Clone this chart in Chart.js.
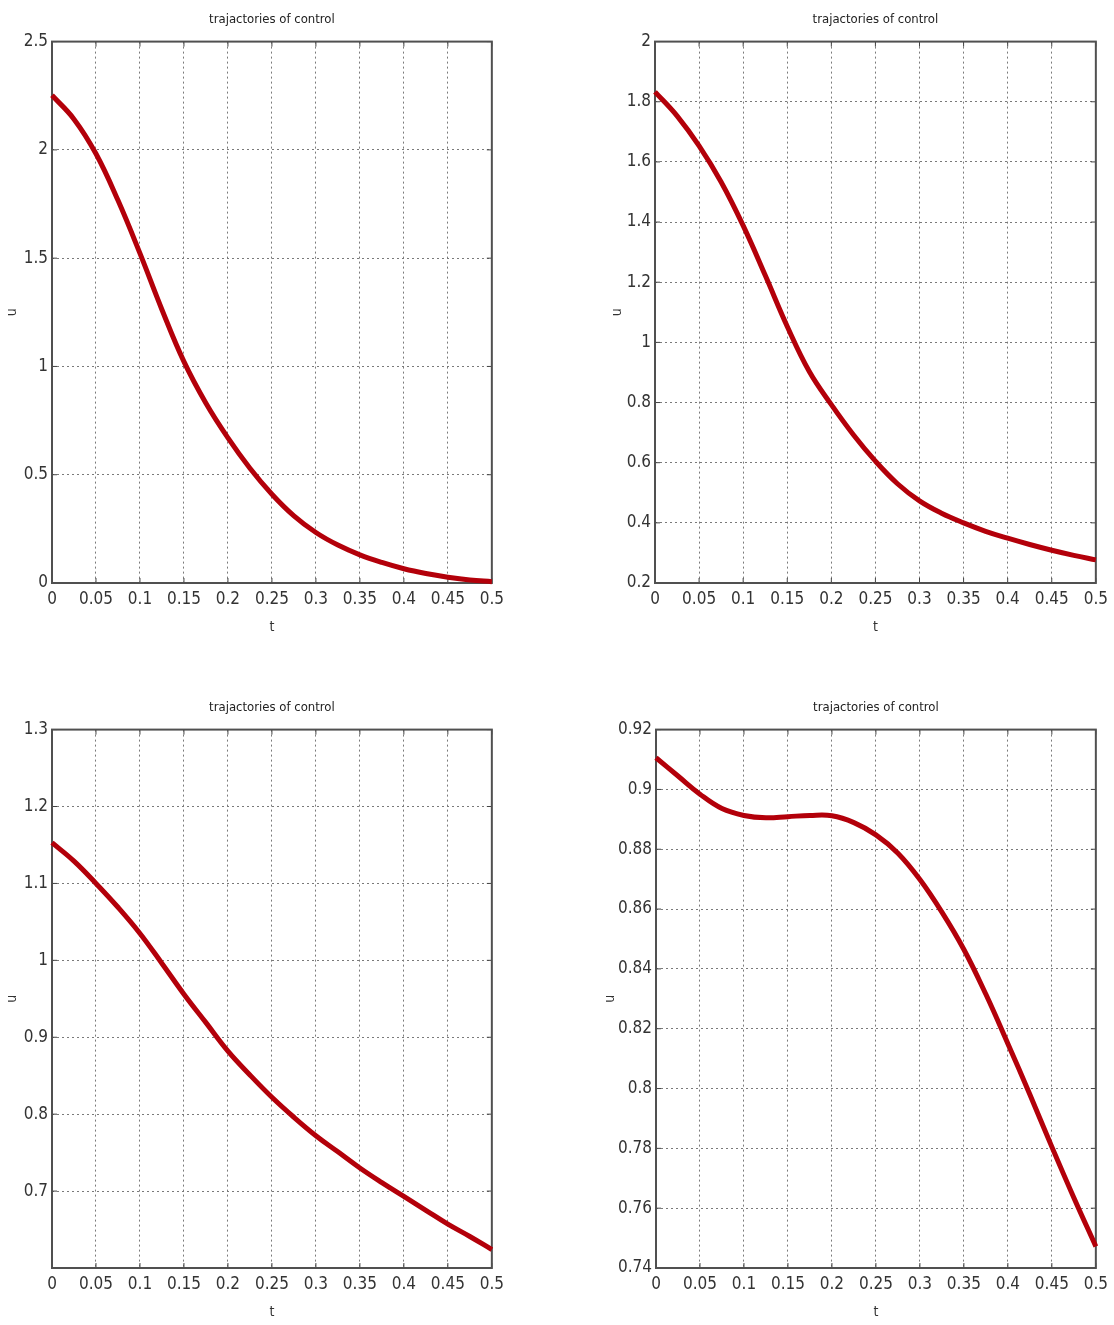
<!DOCTYPE html>
<html>
<head>
<meta charset="utf-8">
<script src="https://cdn.jsdelivr.net/npm/chart.js@4.4.1/dist/chart.umd.min.js"></script>
<style>
  body { margin: 0; background: #fff; width: 1114px; height: 1325px; position: relative; overflow: hidden; }
  .panel { position: absolute; }
</style>
</head>
<body>
<div class="panel" style="left:0px;top:0px"><canvas id="c1" width="510" height="638"></canvas></div>
<div class="panel" style="left:600px;top:0px"><canvas id="c2" width="514" height="638"></canvas></div>
<div class="panel" style="left:0px;top:688px"><canvas id="c3" width="510" height="635"></canvas></div>
<div class="panel" style="left:600px;top:688px"><canvas id="c4" width="514" height="635"></canvas></div>
<script>
// time samples (t) shared by all four plots
var tValues = [0, 0.025, 0.05, 0.075, 0.1, 0.125, 0.15, 0.175, 0.2, 0.225, 0.25,
  0.275, 0.3, 0.325, 0.35, 0.375, 0.4, 0.425, 0.45, 0.475, 0.5];

// control u(t)
var uTopLeft = [2.252, 2.142, 1.982, 1.767, 1.522, 1.262, 1.022, 0.83, 0.67, 0.53, 0.41,
  0.31, 0.233, 0.175, 0.13, 0.095, 0.066, 0.044, 0.027, 0.014, 0.006];
var uTopRight = [1.833, 1.753, 1.653, 1.533, 1.388, 1.223, 1.053, 0.903, 0.793, 0.693, 0.605,
  0.53, 0.473, 0.432, 0.4, 0.372, 0.349, 0.328, 0.309, 0.292, 0.277];
var uBottomLeft = [1.153, 1.129, 1.1, 1.069, 1.035, 0.996, 0.956, 0.919, 0.882, 0.851, 0.822,
  0.796, 0.772, 0.751, 0.73, 0.711, 0.693, 0.675, 0.657, 0.641, 0.624];
var uBottomRight = [0.9106, 0.9045, 0.8984, 0.8936, 0.8913, 0.8905, 0.8909, 0.8913, 0.8912, 0.8889, 0.8848,
  0.8787, 0.8699, 0.859, 0.8465, 0.8315, 0.815, 0.798, 0.7805, 0.7635, 0.7472];

// x ticks
var xTicks = [0, 0.05, 0.1, 0.15, 0.2, 0.25, 0.3, 0.35, 0.4, 0.45, 0.5];
var xTickLabels = ["0", "0.05", "0.1", "0.15", "0.2", "0.25", "0.3", "0.35", "0.4", "0.45", "0.5"];

// y ticks per plot
var yTicksTL = [0, 0.5, 1, 1.5, 2, 2.5];
var yLabelsTL = ["0", "0.5", "1", "1.5", "2", "2.5"];
var yTicksTR = [0.2, 0.4, 0.6, 0.8, 1, 1.2, 1.4, 1.6, 1.8, 2];
var yLabelsTR = ["0.2", "0.4", "0.6", "0.8", "1", "1.2", "1.4", "1.6", "1.8", "2"];
var yTicksBL = [0.6, 0.7, 0.8, 0.9, 1, 1.1, 1.2, 1.3];
var yLabelsBL = ["", "0.7", "0.8", "0.9", "1", "1.1", "1.2", "1.3"];
var yTicksBR = [0.74, 0.76, 0.78, 0.8, 0.82, 0.84, 0.86, 0.88, 0.9, 0.92];
var yLabelsBR = ["0.74", "0.76", "0.78", "0.8", "0.82", "0.84", "0.86", "0.88", "0.9", "0.92"];

var titleText = "trajactories of control";

Chart.defaults.font.family = '"Liberation Sans Narrow", "DejaVu Sans Condensed", "Liberation Sans", Arial, sans-serif';
Chart.defaults.color = "#333";

// matlab style box with small inward ticks
var boxPlugin = {
  id: "box",
  beforeDatasetsDraw: function (chart) {
    var a = chart.chartArea, ctx = chart.ctx;
    var xs = chart.scales.x, ys = chart.scales.y;
    ctx.save();
    ctx.strokeStyle = "#444";
    ctx.lineWidth = 1;
    ctx.beginPath();
    xs.ticks.forEach(function (t) {
      var px = xs.getPixelForValue(t.value);
      ctx.moveTo(px, a.bottom); ctx.lineTo(px, a.bottom - 5);
      ctx.moveTo(px, a.top); ctx.lineTo(px, a.top + 5);
    });
    ys.ticks.forEach(function (t) {
      var py = ys.getPixelForValue(t.value);
      ctx.moveTo(a.left, py); ctx.lineTo(a.left + 5, py);
      ctx.moveTo(a.right, py); ctx.lineTo(a.right - 5, py);
    });
    ctx.stroke();
    ctx.lineWidth = 2;
    ctx.strokeStyle = "#505050";
    ctx.strokeRect(a.left, a.top, a.right - a.left, a.bottom - a.top);
    ctx.restore();
  }
};

function makePlot(id, values, yTicks, yLabels, yWidth, yTitlePad) {
  var ctx = document.getElementById(id).getContext("2d");
  return new Chart(ctx, {
    type: "line",
    data: {
      datasets: [{
        data: tValues.map(function (t, i) { return { x: t, y: values[i] }; }),
        borderColor: "#b3000a",
        borderWidth: 5,
        pointRadius: 0,
        tension: 0.4,
        clip: false
      }]
    },
    options: {
      responsive: false,
      animation: false,
      devicePixelRatio: 1,
      layout: { padding: { top: 0, right: 16, bottom: 0, left: 0 } },
      plugins: {
        legend: { display: false },
        tooltip: { enabled: false },
        title: {
          display: true,
          text: titleText,
          fullSize: false,
          color: "#222",
          font: { size: 13, weight: "normal" },
          padding: { top: 12, bottom: 14 }
        }
      },
      scales: {
        x: {
          type: "linear",
          min: 0,
          max: 0.5,
          afterFit: function (s) { s.height = 55; },
          afterBuildTicks: function (s) { s.ticks = xTicks.map(function (v) { return { value: v }; }); },
          ticks: {
            font: { size: 17 },
            padding: 6,
            maxRotation: 0,
            autoSkip: false,
            callback: function (v, i) { return xTickLabels[i]; }
          },
          grid: { color: "#7a7a7a", lineWidth: 1, drawTicks: false },
          border: { display: false, dash: [2, 3] },
          title: { display: true, text: "t", font: { size: 14 }, padding: { top: 0, bottom: 2 } }
        },
        y: {
          type: "linear",
          min: yTicks[0],
          max: yTicks[yTicks.length - 1],
          afterFit: function (s) { s.width = yWidth; },
          afterBuildTicks: function (s) { s.ticks = yTicks.map(function (v) { return { value: v }; }); },
          ticks: {
            font: { size: 17 },
            padding: 4,
            autoSkip: false,
            callback: function (v, i) { return yLabels[i]; }
          },
          grid: { color: "#7a7a7a", lineWidth: 1, drawTicks: false },
          border: { display: false, dash: [2, 3] },
          title: { display: true, text: "u", font: { size: 14 }, padding: { top: yTitlePad, bottom: 0 } }
        }
      }
    },
    plugins: [boxPlugin]
  });
}

makePlot("c1", uTopLeft, yTicksTL, yLabelsTL, 52, 4);
makePlot("c2", uTopRight, yTicksTR, yLabelsTR, 55, 9);
makePlot("c3", uBottomLeft, yTicksBL, yLabelsBL, 52, 4);
makePlot("c4", uBottomRight, yTicksBR, yLabelsBR, 56, 2);
</script>
</body>
</html>
